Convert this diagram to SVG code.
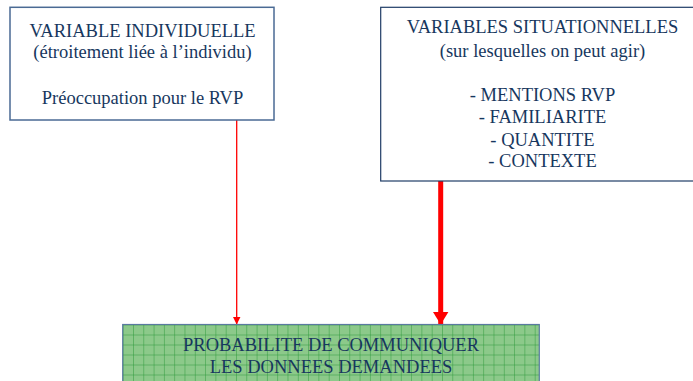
<svg xmlns="http://www.w3.org/2000/svg" width="693" height="381" viewBox="0 0 693 381">
  <defs>
    <pattern id="grid" x="122.7" y="324.5" width="10.3" height="10" patternUnits="userSpaceOnUse">
      <rect width="10.3" height="10" fill="#8cc98a"/>
      <path d="M0 0V10M0 0H10.3" stroke="#2f9a3c" stroke-width="1" fill="none"/>
    </pattern>
    <marker id="headThin" markerWidth="8" markerHeight="8" refX="8" refY="4" orient="auto" markerUnits="userSpaceOnUse">
      <path d="M0 0L8 4L0 8Z" fill="#ff0000"/>
    </marker>
    <marker id="headThick" markerWidth="13" markerHeight="16" refX="13" refY="8" orient="auto" markerUnits="userSpaceOnUse">
      <path d="M0 0L13 8L0 16Z" fill="#ff0000"/>
    </marker>
  </defs>
  <style>
    .box { fill: #ffffff; stroke: #1f3c66; stroke-width: 1.2; }
    .boxSoft { fill: #ffffff; stroke: #4a6a94; stroke-width: 1.5; }
    text { font-family: 'Liberation Serif', Tinos, 'DejaVu Serif', serif; fill: #17375e; text-anchor: middle; font-size: 18.5px; }
  </style>
  <rect width="693" height="381" fill="#ffffff"/>

  <g id="connectors">
    <line x1="236.7" y1="120" x2="236.7" y2="324.5" stroke="#ff0000" stroke-width="1.3" marker-end="url(#headThin)"/>
    <line x1="440.7" y1="181" x2="440.7" y2="324.5" stroke="#ff0000" stroke-width="5" marker-end="url(#headThick)"/>
  </g>

  <g id="individual">
    <rect class="boxSoft" x="10" y="7.3" width="264" height="112.7"/>
    <text x="142.5" y="37">VARIABLE INDIVIDUELLE</text>
    <text x="142.5" y="58">(étroitement liée à l’individu)</text>
    <text x="142.5" y="104">Préoccupation pour le RVP</text>
  </g>

  <g id="situational">
    <rect class="box" x="380.7" y="7.3" width="330" height="173.7"/>
    <text x="542.5" y="33">VARIABLES SITUATIONNELLES</text>
    <text x="542.5" y="57">(sur lesquelles on peut agir)</text>
    <text x="542.5" y="101">- MENTIONS RVP</text>
    <text x="542.5" y="123">- FAMILIARITE</text>
    <text x="542.5" y="146">- QUANTITE</text>
    <text x="542.5" y="167">- CONTEXTE</text>
  </g>

  <g id="probability">
    <rect x="122.7" y="324.5" width="416.6" height="70" fill="url(#grid)" stroke="#5a7aa0" stroke-width="1.2"/>
    <text x="331" y="351">PROBABILITE DE COMMUNIQUER</text>
    <text x="331" y="373">LES DONNEES DEMANDEES</text>
  </g>
</svg>
